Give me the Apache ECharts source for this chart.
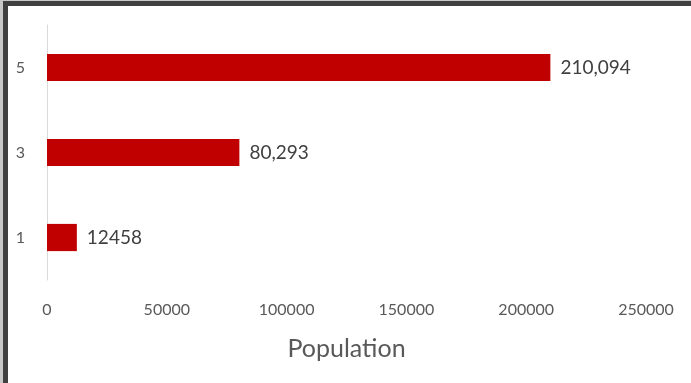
<!DOCTYPE html>
<html>
<head>
<meta charset="utf-8">
<script src="https://cdn.jsdelivr.net/npm/echarts@6/dist/echarts.min.js"></script>
<style>
  html, body { margin: 0; padding: 0; background: #c8c8c8; }
  #frame { position: absolute; left: 3px; top: 1px; width: 688px; height: 382px;
           border-left: 5px solid #404040; border-top: 5px solid #404040;
           box-sizing: border-box; background: #fff; }
  #chart { position: absolute; left: 0; top: 0; width: 691px; height: 383px; }
</style>
</head>
<body>
<div id="frame"></div>
<div id="chart"></div>
<script>
// categories bottom to top
const categories = ['1', '3', '5'];
const population = [12458, 80293, 210094];
const valueLabels = ['12458', '80,293', '210,094'];

const chart = echarts.init(document.getElementById('chart'), null, { renderer: 'canvas' });
const font = 'Lato, "Open Sans", sans-serif';

chart.setOption({
  backgroundColor: 'transparent',
  animation: false,
  grid: { left: 47, right: 45, top: 25, bottom: 103, containLabel: false },
  xAxis: {
    type: 'value',
    min: 0,
    max: 250000,
    interval: 50000,
    name: 'Population',
    nameLocation: 'middle',
    nameGap: 56,
    nameTextStyle: { fontFamily: font, fontSize: 25, color: '#595959' },
    axisLine: { show: false },
    axisTick: { show: false },
    splitLine: { show: false },
    axisLabel: {
      fontFamily: font, fontSize: 16, color: '#595959', margin: 22,
      formatter: v => String(v)
    }
  },
  yAxis: {
    type: 'category',
    data: categories,
    axisLine: { show: true, lineStyle: { color: '#d9d9d9', width: 1 } },
    axisTick: { show: false },
    axisLabel: { fontFamily: font, fontSize: 16, color: '#595959', margin: 22 }
  },
  series: [{
    type: 'bar',
    data: population,
    barCategoryGap: '68%',
    itemStyle: { color: '#c00000' },
    label: {
      show: true,
      position: 'right',
      distance: 10,
      fontFamily: font,
      fontSize: 19,
      color: '#404040',
      formatter: p => valueLabels[p.dataIndex]
    }
  }]
});
</script>
</body>
</html>
